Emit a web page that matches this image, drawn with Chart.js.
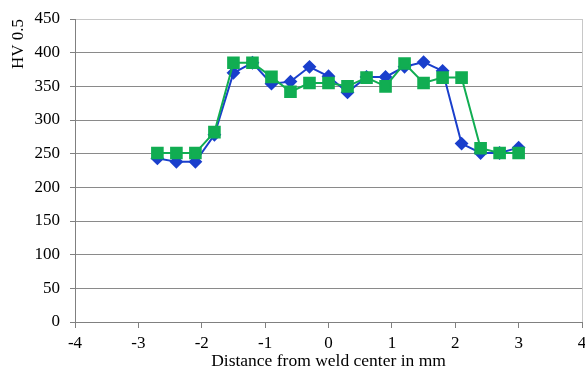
<!DOCTYPE html>
<html>
<head>
<meta charset="utf-8">
<script src="https://cdn.jsdelivr.net/npm/chart.js@4/dist/chart.umd.min.js"></script>
<style>
  html, body { margin: 0; padding: 0; background: #fff; }
  #wrap { width: 585px; height: 370px; }
</style>
</head>
<body>
<div id="wrap"><canvas id="hvChart" width="585" height="370"></canvas></div>
<script>
// distance from weld center (mm)
const positions = [-2.7, -2.4, -2.1, -1.8, -1.5, -1.2, -0.9, -0.6, -0.3, 0, 0.3, 0.6, 0.9, 1.2, 1.5, 1.8, 2.1, 2.4, 2.7, 3.0];
// hardness readings
const blueHV = [243, 238, 238, 278, 370, 385, 354, 357, 379, 365, 341, 364, 364, 379, 386, 373, 265, 251, 251, 259];
const greenHV = [251, 251, 251, 282, 385, 385, 364, 342, 355, 355, 350, 363, 350, 384, 355, 363, 363, 258, 251, 251];
const yTicks = [0, 50, 100, 150, 200, 250, 300, 350, 400, 450];
const xTicks = [-4, -3, -2, -1, 0, 1, 2, 3, 4];

const toPoints = (vals) => positions.map((x, i) => ({ x: x, y: vals[i] }));

const ctx = document.getElementById('hvChart').getContext('2d');

new Chart(ctx, {
    type: 'scatter',
    data: {
        datasets: [{
            label: 'blue',
            data: toPoints(blueHV),
            showLine: true,
            borderColor: '#1a3fcc',
            backgroundColor: '#1a3fcc',
            borderWidth: 2,
            pointStyle: 'rectRot',
            pointRadius: 5.5,
            order: 1
        }, {
            label: 'green',
            data: toPoints(greenHV),
            showLine: true,
            borderColor: '#11ad52',
            backgroundColor: '#11ad52',
            borderWidth: 2,
            pointStyle: 'rect',
            pointRadius: 7.5,
            order: 0
        }]
    },
    options: {
        responsive: false,
        animation: false,
        // no auto padding, otherwise the big markers shrink the plot area
        layout: { autoPadding: false, padding: { left: 0, right: 3, top: 19, bottom: 0 } },
        plugins: {
            legend: { display: false },
            tooltip: { enabled: false }
        },
        scales: {
            x: {
                type: 'linear',
                min: -4,
                max: 4,
                afterFit: (s) => { s.height = 48; s.paddingLeft = 0; s.paddingRight = 0; },
                afterBuildTicks: (s) => { s.ticks = xTicks.map(v => ({ value: v })); },
                grid: {
                    color: (c) => c.tick && c.tick.value === 4 ? '#c8c8c8' : 'rgba(0,0,0,0)',
                    tickColor: '#808080',
                    tickLength: 6,
                    drawOnChartArea: true
                },
                border: { color: '#808080', width: 1 },
                ticks: {
                    color: '#000',
                    padding: 5,
                    font: { family: 'Liberation Serif', size: 17 }
                },
                title: {
                    display: true,
                    text: 'Distance from weld center in mm',
                    color: '#000',
                    padding: { top: 0, bottom: 0 },
                    font: { family: 'Liberation Serif', size: 17.5, lineHeight: 1.0 }
                }
            },
            y: {
                min: 0,
                max: 450,
                afterFit: (s) => { s.width = 75; s.paddingTop = 0; s.paddingBottom = 0; },
                afterBuildTicks: (s) => { s.ticks = yTicks.map(v => ({ value: v })); },
                grid: {
                    color: (c) => c.tick && c.tick.value === 450 ? '#c8c8c8' : '#8a8a8a',
                    tickColor: '#808080',
                    tickLength: 5
                },
                border: { color: '#808080', width: 1 },
                ticks: {
                    color: '#000',
                    padding: 10,
                    font: { family: 'Liberation Serif', size: 17 }
                },
                title: {
                    display: true,
                    text: 'HV 0.5',
                    align: 'end',
                    color: '#000',
                    padding: { top: 8, bottom: 0 },
                    font: { family: 'Liberation Serif', size: 17 }
                }
            }
        }
    }
});
</script>
</body>
</html>
